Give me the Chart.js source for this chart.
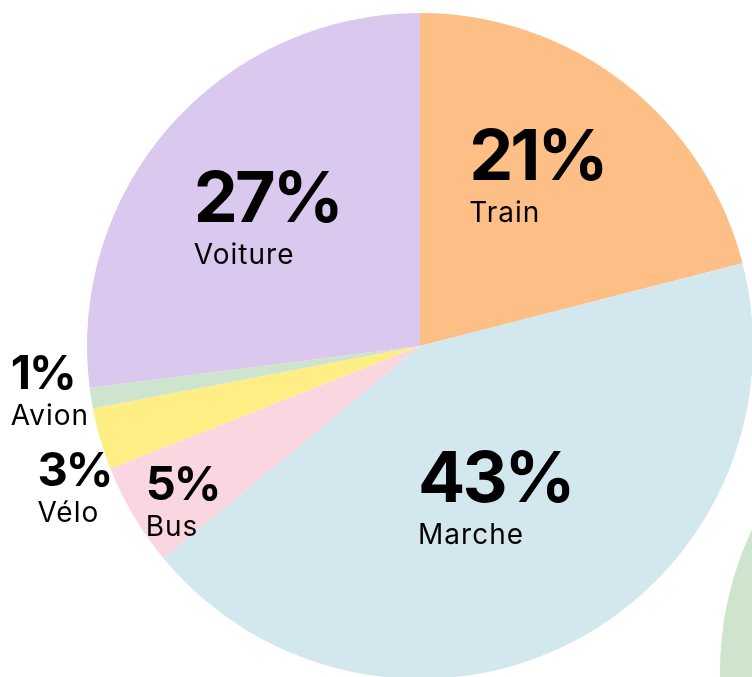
<!DOCTYPE html>
<html>
<head>
<meta charset="utf-8">
<script src="https://cdn.jsdelivr.net/npm/chart.js@4.4.1/dist/chart.umd.min.js"></script>
<style>
  html, body { margin: 0; padding: 0; background: #fff; }
  body { width: 752px; height: 677px; overflow: hidden; position: relative; }
  #wrap-main { position: absolute; left: 0; top: 0; width: 753px; height: 679px; }
  #wrap-next { position: absolute; left: 720px; top: 339px; width: 666px; height: 666px; }
</style>
</head>
<body>
<div id="wrap-next"><canvas id="next-chart"></canvas></div>
<div id="wrap-main"><canvas id="mode-chart"></canvas></div>
<script>
// Data
const modes = ['Train', 'Marche', 'Bus', 'Vélo', 'Avion', 'Voiture'];
const shares = [21, 43, 5, 3, 1, 27];
const colors = ['#FDBF85', '#D3E8EE', '#FAD7E0', '#FEEE84', '#CFE4CC', '#DBC8EE'];

// where each label goes: [fraction of radius, angle shift in degrees]
const labelPlacement = [
    [0.61, -2.5],
    [0.52, 1.2],
    [0.85, -2.4],
    [1.12, -5.9],
    [1.14, 2.5],
    [0.59, -2.4]
];

const FONT = 'Inter, "Noto Sans", sans-serif';

// Draws the percent + name labels
const sliceLabels = {
    id: 'sliceLabels',
    afterDatasetsDraw(chart) {
        const ctx = chart.ctx;
        const meta = chart.getDatasetMeta(0);
        const data = chart.data.datasets[0].data;
        meta.data.forEach((arc, i) => {
            const p = labelPlacement[i];
            const mid = (arc.startAngle + arc.endAngle) / 2 + p[1] * Math.PI / 180;
            const r = arc.outerRadius * p[0];
            const x = arc.x + Math.cos(mid) * r;
            const y = arc.y + Math.sin(mid) * r;
            const big = data[i] >= 20;
            const pctSize = big ? 70 : 47;

            ctx.save();
            ctx.fillStyle = '#000';
            ctx.textBaseline = 'alphabetic';
            ctx.textAlign = 'left';
            ctx.font = '700 ' + pctSize + 'px ' + FONT;
            ctx.letterSpacing = big ? '-3px' : '-2px';
            const txt = data[i] + '%';
            const w = ctx.measureText(txt).width;
            const left = x - w / 2;
            ctx.fillText(txt, left, y);
            ctx.font = '400 28px ' + FONT;
            ctx.letterSpacing = '1px';
            ctx.fillText(chart.data.labels[i], left, y + (big ? 42 : 36));
            ctx.restore();
        });
    }
};

new Chart(document.getElementById('mode-chart').getContext('2d'), {
    type: 'pie',
    data: {
        labels: modes,
        datasets: [{
            data: shares,
            backgroundColor: colors,
            borderWidth: 0
        }]
    },
    options: {
        responsive: true,
        maintainAspectRatio: false,
        animation: false,
        layout: { padding: { left: 87, top: 13, right: 0, bottom: 0 } },
        plugins: {
            legend: { display: false },
            tooltip: { enabled: false }
        }
    },
    plugins: [sliceLabels]
});

// Next chart peeking in at the bottom right
new Chart(document.getElementById('next-chart').getContext('2d'), {
    type: 'pie',
    data: {
        labels: ['next'],
        datasets: [{
            data: [100],
            backgroundColor: ['#CFE4CC'],
            borderWidth: 0
        }]
    },
    options: {
        responsive: true,
        maintainAspectRatio: false,
        animation: false,
        plugins: {
            legend: { display: false },
            tooltip: { enabled: false }
        }
    }
});
</script>
</body>
</html>
